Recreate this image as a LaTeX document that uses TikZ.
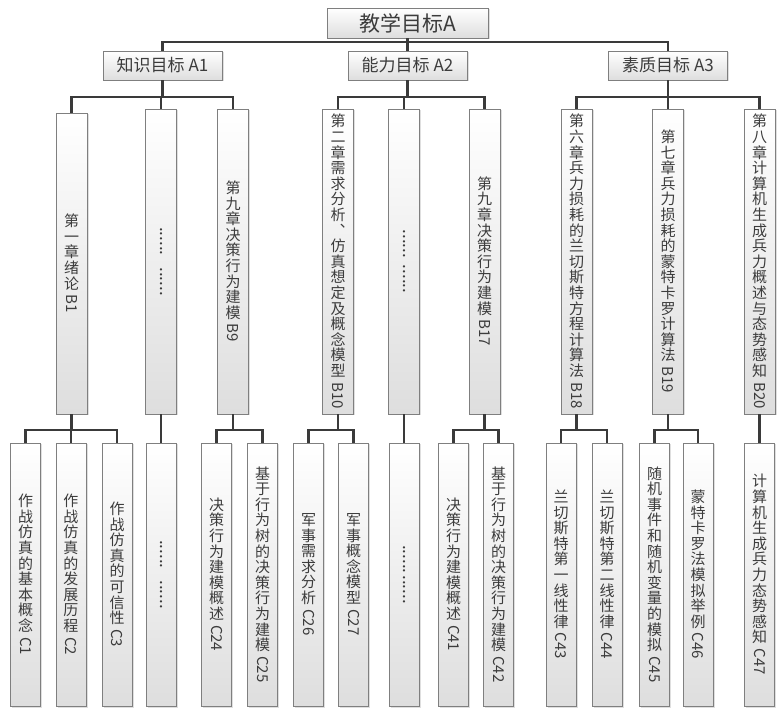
\documentclass[tikz,border=0pt]{standalone}
\usepackage{fontspec}
\setmainfont{Noto Sans CJK SC}
\usepackage{graphicx}
\usetikzlibrary{shadows}
\definecolor{boxline}{HTML}{7F7F7F}
\definecolor{linkc}{HTML}{3A3A3A}
\definecolor{txtc}{HTML}{3C3C3C}

\makeatletter
% one character per line, the latin label turned at the end
\newcommand{\vstack}[2]{%
  \edef\vs@in{#1}\def\vs@out{}%
  \def\vs@run{\@tfor\vs@ch:=}%
  \expandafter\vs@run\vs@in\do{\edef\vs@out{\unexpanded\expandafter{\vs@out}\unexpanded\expandafter{\vs@ch}\noexpand\\}}%
  \vs@out[-10pt]\rotatebox{-90}{#2}}
\makeatother

\begin{document}
\begin{tikzpicture}[
  x=1pt, y=-1pt,
  shaded/.style={draw=boxline, top color=white, bottom color=black!13, text=txtc,
    drop shadow={shadow xshift=1.5pt, shadow yshift=-1.5pt, opacity=0.25}},
  topbox/.style={shaded, minimum width=161pt, minimum height=30pt, inner sep=0pt,
    font=\fontsize{21}{24}\selectfont},
  abox/.style={shaded, minimum width=119pt, minimum height=29pt, inner sep=0pt,
    font=\fontsize{17}{20}\selectfont},
  bbox/.style={shaded, minimum width=31pt, minimum height=305pt, inner sep=0pt,
    text width=16pt, align=center, font=\fontsize{15}{15.6}\selectfont},
  cbox/.style={bbox, minimum width=30pt, minimum height=263pt},
  dots/.style={font=\fontsize{17}{18}\selectfont},
  link/.style={draw=linkc, line width=2.2pt},
]
\useasboundingbox (0,0) rectangle (780,708);

% Top and goal level
\node[topbox] (A) at (407.5,23) {教学目标A};
\node[abox] (A1) at (162.5,65.5) {知识目标 A1};
\node[abox] (A2) at (407.5,65.5) {能力目标 A2};
\node[abox] (A3) at (668,65.5) {素质目标 A3};

% Chapters
\node[bbox, minimum height=301pt] (B1) at (71.5,263.5) {\vstack{第一章绪论}{B1}};
\foreach \x/\nm/\txt/\lab in {
  233/B9/第九章决策行为建模/B9,
  338/B10/第二章需求分析︑仿真想定及概念模型/B10,
  484.5/B17/第九章决策行为建模/B17,
  576.5/B18/第六章兵力损耗的兰切斯特方程计算法/B18,
  668/B19/第七章兵力损耗的蒙特卡罗计算法/B19,
  759.5/B20/第八章计算机生成兵力概述与态势感知/B20%
}{
  \node[bbox] (\nm) at (\x,261.5) {\vstack{\txt}{\lab}};
}
\node[bbox, dots] (Bd1) at (161,261.5) {\rotatebox{-90}{......\hspace{12pt}......}};
\node[bbox, dots] (Bd2) at (404,261.5) {\rotatebox{-90}{......\hspace{7pt}......}};

% Sections
\foreach \x/\nm/\txt/\lab in {
  25.5/C1/作战仿真的基本概念/C1,
  71/C2/作战仿真的发展历程/C2,
  117/C3/作战仿真的可信性/C3,
  216.5/C24/决策行为建模概述/C24,
  262.5/C25/基于行为树的决策行为建模/C25,
  308.5/C26/军事需求分析/C26,
  353.5/C27/军事概念模型/C27,
  453.5/C41/决策行为建模概述/C41,
  498.5/C42/基于行为树的决策行为建模/C42,
  561/C43/兰切斯特第一线性律/C43,
  607/C44/兰切斯特第二线性律/C44,
  654.5/C45/随机事件和随机变量的模拟/C45,
  698/C46/蒙特卡罗法模拟举例/C46,
  759.5/C47/计算机生成兵力态势感知/C47%
}{
  \node[cbox] (\nm) at (\x,574.5) {\vstack{\txt}{\lab}};
}
\node[cbox, dots] (Cd1) at (161,574.5) {\rotatebox{-90}{......\hspace{12pt}......}};
\node[cbox, dots] (Cd2) at (404,574.5) {\rotatebox{-90}{......\hspace{2pt}......}};

% Connectors
\foreach \c in {A1,A2,A3}
  \draw[link] (A.south) -- ++(0,4) -| (\c.north);
\foreach \p/\c in {A1/B1, A1/Bd1, A1/B9, A2/B10, A2/Bd2, A2/B17, A3/B18, A3/B19, A3/B20}
  \draw[link] (\p.south) -- ++(0,17) -| (\c.north);
\foreach \p/\c in {B1/C1, B1/C2, B1/C3, Bd1/Cd1, B9/C24, B9/C25, B10/C26, B10/C27,
                   Bd2/Cd2, B17/C41, B17/C42, B18/C43, B18/C44, B19/C45, B19/C46, B20/C47}
  \draw[link] (\p.south) -- ++(0,16) -| (\c.north);
\end{tikzpicture}
\end{document}
